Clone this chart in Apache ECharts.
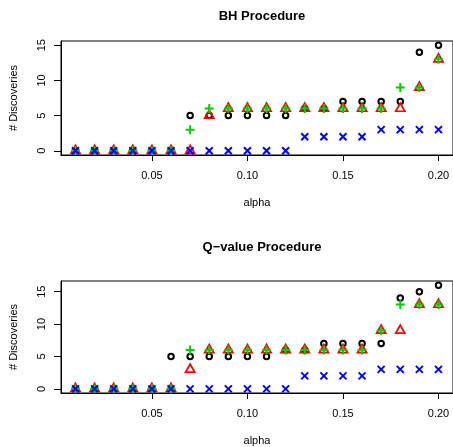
<!DOCTYPE html>
<html>
<head>
<meta charset="utf-8">
<script src="https://cdn.jsdelivr.net/npm/echarts@6/dist/echarts.min.js"></script>
<style>
  html, body { margin: 0; padding: 0; background: #fff; }
  #chart { width: 453px; height: 447px; }
</style>
</head>
<body>
<div id="chart"></div>
<script>
// alpha levels
var alpha = [0.01, 0.02, 0.03, 0.04, 0.05, 0.06, 0.07, 0.08, 0.09, 0.10,
             0.11, 0.12, 0.13, 0.14, 0.15, 0.16, 0.17, 0.18, 0.19, 0.20];
var xTicks = [0.05, 0.10, 0.15, 0.20];
var yTicks = [0, 5, 10, 15];

// BH procedure
var bhBlack = [0, 0, 0, 0, 0, 0, 5, 5, 5, 5, 5, 5, 6, 6, 7, 7, 7, 7, 14, 15];
var bhRed   = [0, 0, 0, 0, 0, 0, 0, 5, 6, 6, 6, 6, 6, 6, 6, 6, 6, 6, 9, 13];
var bhGreen = [0, 0, 0, 0, 0, 0, 3, 6, 6, 6, 6, 6, 6, 6, 6, 6, 6, 9, 9, 13];
var bhBlue  = [0, 0, 0, 0, 0, 0, 0, 0, 0, 0, 0, 0, 2, 2, 2, 2, 3, 3, 3, 3];

// Q-value procedure
var qBlack = [0, 0, 0, 0, 0, 5, 5, 5, 5, 5, 5, 6, 6, 7, 7, 7, 7, 14, 15, 16];
var qRed   = [0, 0, 0, 0, 0, 0, 3, 6, 6, 6, 6, 6, 6, 6, 6, 6, 9, 9, 13, 13];
var qGreen = [0, 0, 0, 0, 0, 0, 6, 6, 6, 6, 6, 6, 6, 6, 6, 6, 9, 13, 13, 13];
var qBlue  = [0, 0, 0, 0, 0, 0, 0, 0, 0, 0, 0, 0, 2, 2, 2, 2, 3, 3, 3, 3];

var FONT = 'Liberation Sans, Arial, sans-serif';

function pts(vals) {
    return vals.map(function (v, i) { return [alpha[i], v]; });
}

// circle, open triangle (centred on its centroid like R's pch 2), plus, cross
var marks = [
    {symbol: 'circle', size: 5.5, offset: [0, 0], color: '#000000', width: 2},
    {symbol: 'triangle', size: [9, 8], offset: [0, -1.33], color: '#ff0000', width: 1.8},
    {symbol: 'path://M0,5H10M5,0V10', size: 9, offset: [0, 0], color: '#00cc00', width: 2},
    {symbol: 'path://M0,0L10,10M10,0L0,10', size: 7, offset: [0, 0], color: '#0000ff', width: 2}
];

function makeSeries(idx, sets) {
    return sets.map(function (vals, k) {
        var m = marks[k];
        return {
            type: 'scatter',
            xAxisIndex: idx,
            yAxisIndex: idx,
            symbol: m.symbol,
            symbolSize: m.size,
            symbolOffset: m.offset,
            itemStyle: {color: 'none', borderColor: m.color, borderWidth: m.width, opacity: 1},
            emphasis: {disabled: true},
            data: pts(vals),
            z: 2 + k
        };
    });
}

function xAxis(idx) {
    return {
        type: 'value', gridIndex: idx,
        min: 0.0024, max: 0.2076,
        name: 'alpha', nameLocation: 'middle', nameGap: 42,
        nameTextStyle: {fontFamily: FONT, fontSize: 11, color: '#000'},
        axisLine: {show: true, onZero: false, lineStyle: {color: '#000'}},
        axisTick: {show: true, length: 6, customValues: xTicks, lineStyle: {color: '#000'}},
        axisLabel: {customValues: xTicks, margin: 15, fontFamily: FONT, fontSize: 11, color: '#000',
                    formatter: function (v) { return v.toFixed(2); }},
        splitLine: {show: false}
    };
}

function yAxis(idx, max) {
    return {
        type: 'value', gridIndex: idx,
        min: -0.04 * max, max: max * 1.04,
        name: '# Discoveries', nameLocation: 'middle', nameGap: 42, nameRotate: 90,
        nameTextStyle: {fontFamily: FONT, fontSize: 11, color: '#000'},
        axisLine: {show: true, onZero: false, lineStyle: {color: '#000'}},
        axisTick: {show: true, length: 7, customValues: yTicks, lineStyle: {color: '#000'}},
        axisLabel: {customValues: yTicks, rotate: 90, margin: 14, fontFamily: FONT, fontSize: 11, color: '#000'},
        splitLine: {show: false}
    };
}

var chart = echarts.init(document.getElementById('chart'), null, {renderer: 'canvas'});
chart.setOption({
    animation: false,
    backgroundColor: '#fff',
    title: [
        {text: 'BH Procedure', left: 257, top: 5, textAlign: 'center',
         textStyle: {fontFamily: FONT, fontSize: 13, fontWeight: 'bold', color: '#000'}},
        {text: 'Q\u2212value Procedure', left: 257, top: 236, textAlign: 'center',
         textStyle: {fontFamily: FONT, fontSize: 13, fontWeight: 'bold', color: '#000'}}
    ],
    grid: [
        {left: 60, top: 41, width: 395, height: 114, show: true, borderColor: '#000', borderWidth: 1},
        {left: 60, top: 281, width: 395, height: 113, show: true, borderColor: '#000', borderWidth: 1}
    ],
    xAxis: [xAxis(0), xAxis(1)],
    yAxis: [yAxis(0, 15), yAxis(1, 16)],
    series: makeSeries(0, [bhBlack, bhRed, bhGreen, bhBlue])
        .concat(makeSeries(1, [qBlack, qRed, qGreen, qBlue]))
});
</script>
</body>
</html>
